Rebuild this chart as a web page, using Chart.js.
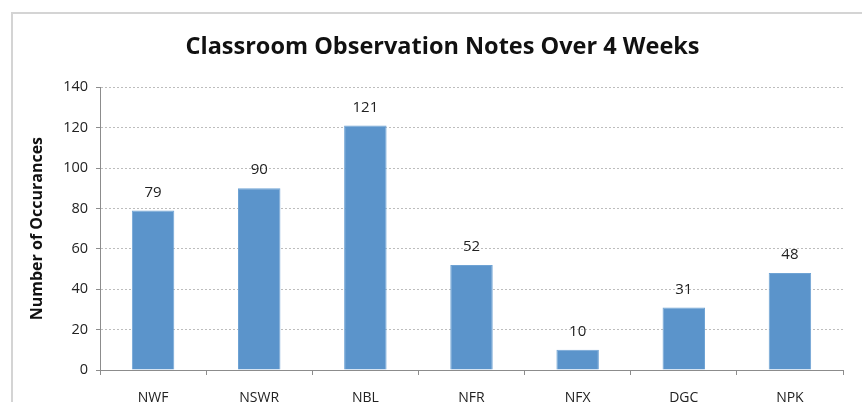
<!DOCTYPE html>
<html>
<head>
<meta charset="utf-8">
<script src="https://cdn.jsdelivr.net/npm/chart.js@4.4.0/dist/chart.umd.min.js"></script>
<style>
  html, body { margin: 0; padding: 0; background: #fff; overflow: hidden; }
  .wrap { position: relative; width: 862px; height: 402px; }
  .frame { position: absolute; left: 11px; top: 12px; width: 900px; height: 500px; border: 2px solid #d4d4d4; }
  canvas { position: absolute; left: 0; top: 0; }
</style>
</head>
<body>
<div class="wrap">
  <div class="frame"></div>
  <canvas id="chart" width="862" height="402"></canvas>
</div>
<script>
// categories and counts
const categories = ['NWF', 'NSWR', 'NBL', 'NFR', 'NFX', 'DGC', 'NPK'];
const occurrences = [79, 90, 121, 52, 10, 31, 48];
const yTicks = [0, 20, 40, 60, 80, 100, 120, 140];

const font = "Open Sans, Liberation Sans, sans-serif";

// values above the bars
const valueLabels = {
  id: 'valueLabels',
  afterDatasetsDraw(chart) {
    const ctx = chart.ctx;
    const meta = chart.getDatasetMeta(0);
    ctx.save();
    ctx.fillStyle = '#222';
    ctx.font = '15px ' + font;
    ctx.textAlign = 'center';
    ctx.textBaseline = 'middle';
    meta.data.forEach((bar, i) => {
      ctx.fillText(occurrences[i], bar.x, bar.y - 18);
    });
    ctx.restore();
  }
};

new Chart(document.getElementById('chart'), {
  type: 'bar',
  data: {
    labels: categories,
    datasets: [{
      data: occurrences,
      backgroundColor: '#5b94cb',
      borderColor: '#6fa3d4',
      borderWidth: 1,
      barPercentage: 0.4,
      categoryPercentage: 1
    }]
  },
  options: {
    responsive: false,
    animation: false,
    layout: { padding: { left: 42, right: 19, top: 0, bottom: 0 } },
    plugins: {
      legend: { display: false },
      tooltip: { enabled: false },
      title: {
        display: true,
        text: 'Classroom Observation Notes Over 4 Weeks',
        color: '#111',
        font: { family: font, size: 23.5, weight: 'bold' },
        padding: { top: 33, bottom: 26 }
      }
    },
    scales: {
      x: {
        grid: { drawOnChartArea: false, drawTicks: true, tickLength: 5, color: '#8c8c8c', offset: true },
        border: { color: '#8c8c8c', width: 1 },
        ticks: { color: '#222', font: { family: font, size: 14 }, padding: 15, maxRotation: 0 },
        afterFit: s => { s.height = 32; }
      },
      y: {
        min: 0,
        max: 140,
        afterBuildTicks: s => { s.ticks = yTicks.map(v => ({ value: v })); },
        grid: { color: '#bdbdbd', tickColor: '#8c8c8c', tickLength: 4 },
        border: { color: '#8c8c8c', width: 1, dash: [2, 2] },
        ticks: { color: '#222', font: { family: font, size: 14.5 }, padding: 8 },
        title: {
          display: true,
          text: 'Number of Occurances',
          color: '#111',
          font: { family: font, size: 16, weight: 'bold' },
          padding: { top: -14, bottom: 0 }
        },
        afterFit: s => { s.width = 58; }
      }
    }
  },
  plugins: [valueLabels]
});
</script>
</body>
</html>
